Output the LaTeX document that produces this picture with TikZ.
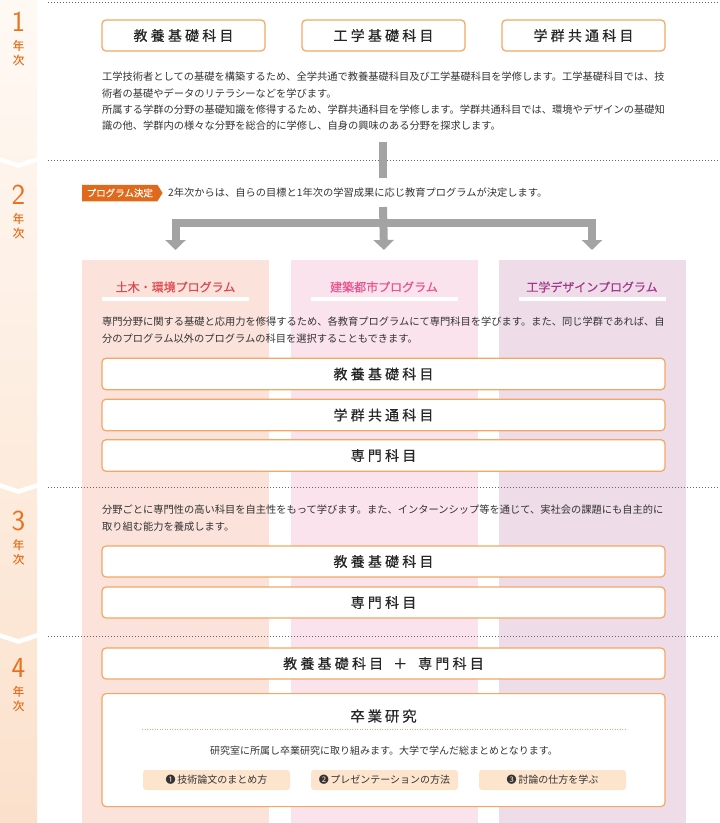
\documentclass[tikz,border=0pt]{standalone}
\usepackage{fontspec}
\setmainfont{Noto Sans CJK JP}
\newfontfamily\SubjFont[FakeBold=0.35]{Noto Sans CJK JP}
\usepackage{xcolor}
\usepackage{tikz}
\usetikzlibrary{calc,positioning,arrows.meta,shapes.symbols}
\definecolor{ink}{HTML}{333333}
\definecolor{boxline}{HTML}{F3A762}
\definecolor{yearink}{HTML}{E8701E}
\definecolor{sideA}{HTML}{FFF9F4}
\definecolor{sideB}{HTML}{FBE1CC}
\definecolor{flowgray}{HTML}{A3A3A3}
\definecolor{tagfill}{HTML}{E06A1B}
\definecolor{dotgray}{HTML}{666666}
\definecolor{laneA}{HTML}{FBE2DA}
\definecolor{laneB}{HTML}{FAE3EC}
\definecolor{laneC}{HTML}{EEDDE9}
\definecolor{titleA}{HTML}{E0474E}
\definecolor{titleB}{HTML}{E8528E}
\definecolor{titleC}{HTML}{A2368A}
\definecolor{pillfill}{HTML}{FCE4CD}
\newcommand{\Body}{\fontsize{10.25}{16.3}\selectfont}
\newcommand{\Subj}{\SubjFont\fontsize{14}{16}\selectfont}
\newcommand{\Title}{\SubjFont\fontsize{12}{14}\selectfont}
% letter spacing for the subject boxes
\def\SpreadGap{3.2pt}
\def\Spread#1{\SpreadLoop#1\relax\kern-\SpreadGap}
\def\SpreadLoop#1{\ifx#1\relax\else#1\kern\SpreadGap\expandafter\SpreadLoop\fi}
\def\SpreadMac#1{\expandafter\Spread\expandafter{#1}}

\begin{document}
\begin{tikzpicture}[x=1pt,y=-1pt, font=\Body, text=ink,
    subj/.style={draw=boxline, line width=1.2pt, rounded corners=4pt, fill=white, font=\Subj, text=black!85, inner sep=0pt},
    para/.style={anchor=north west, align=left, inner sep=0pt, font=\Body},
    lane/.style={anchor=north, minimum width=187pt, minimum height=563pt, inner sep=0pt, outer sep=0pt, draw=none},
    flow/.style={draw=flowgray, line width=8pt, -{Triangle[width=20pt,length=10pt]}},
    dotrule/.style={draw=dotgray, line width=0.9pt, dash pattern=on 0.9pt off 2.1pt},
    pill/.style={fill=pillfill, rounded corners=3pt, minimum width=147pt, minimum height=20pt, inner sep=0pt, font=\fontsize{10}{12}\selectfont},
    yearnum/.style={font=\fontsize{29}{30}\selectfont\sffamily, text=yearink, inner sep=0pt},
    yearkanji/.style={font=\SubjFont\fontsize{11.5}{14.5}\selectfont, text=yearink, align=center, inner sep=0pt}]
  \useasboundingbox (0,0) rectangle (720,823);
  % side strip
  \begin{scope}
    \clip (0,0) -- (37,0) -- (37,157) -- (18.5,163) -- (0,157) -- cycle
      (0,162) -- (18.5,168) -- (37,162) -- (37,483) -- (18.5,489) -- (0,483) -- cycle
      (0,488) -- (18.5,494) -- (37,488) -- (37,633) -- (18.5,639) -- (0,633) -- cycle
      (0,638) -- (18.5,644) -- (37,638) -- (37,823) -- (0,823) -- cycle;
    \shade[top color=sideA, bottom color=sideB] (0,0) rectangle (37,823);
  \end{scope}
  \foreach \n/\y in {1/22,2/195,3/521,4/668}{
    \node[yearnum] (yr\n) at (18.5,\y) {\n};
    \node[yearkanji, below=8pt of yr\n] (yk\n) {年\\次};}
  % program lanes
  \foreach \nm/\cx/\fc/\tc/\lbl in {civil/175.5/laneA/titleA/土木・環境プログラム, arch/384/laneB/titleB/建築都市プログラム, design/592/laneC/titleC/工学デザインプログラム}{
    \node[lane, fill=\fc] (\nm) at (\cx,260) {};
    \node[font=\Title, text=\tc, inner sep=0pt] (\nm-t) at (\cx,287) {\lbl};
    \fill[white] (\cx-73.5,297) rectangle (\cx+73.5,301);}
  \foreach \y in {2,160,487,636}{\draw[dotrule] (48,\y) -- (720,\y);}
  % year 1
  \foreach \x/\nm/\lbl in {183.5/kyo1/教養基礎科目, 383.5/kou1/工学基礎科目, 583.5/gun1/学群共通科目}{
    \node[subj, minimum width=163pt, minimum height=31pt] (\nm) at (\x,35.5) {\SpreadMac{\lbl}};}
  \node[para] (y1text) at (102,72) {工学技術者としての基礎を構築するため、全学共通で教養基礎科目及び工学基礎科目を学修します。工学基礎科目では、技\\術者の基礎やデータのリテラシーなどを学びます。\\所属する学群の分野の基礎知識を修得するため、学群共通科目を学修します。学群共通科目では、環境やデザインの基礎知\\識の他、学群内の様々な分野を総合的に学修し、自身の興味のある分野を探求します。};
  % year 2
  \coordinate (stubTop) at (383,142);
  \coordinate (stubEnd) at (383,178);
  \draw[flowgray, line width=8pt] (stubTop) -- (stubEnd);
  \node[signal, signal to=east, signal pointer angle=116, fill=tagfill, text=white, font=\SubjFont\fontsize{9.5}{10}\selectfont, minimum height=16.5pt, inner xsep=4.5pt, inner ysep=0pt, anchor=west] (decide) at (82,193) {プログラム決定};
  \node[anchor=west, inner sep=0pt] (intro) at (168,193) {2年次からは、自らの目標と1年次の学習成果に応じ教育プログラムが決定します。};
  \coordinate (forkTop) at (383,207);
  \coordinate (fork) at (383,223);
  \draw[flow] (forkTop) -- ([yshift=10pt]arch.north);
  \draw[flow] (fork) -| ([yshift=10pt]civil.north);
  \draw[flow] (fork) -| ([yshift=10pt]design.north);
  \node[para] (y2text) at (102,317) {専門分野に関する基礎と応用力を修得するため、各教育プログラムにて専門科目を学びます。また、同じ学群であれば、自\\分のプログラム以外のプログラムの科目を選択することもできます。};
  \foreach \y/\nm/\lbl in {374/kyo2/教養基礎科目, 415/gun2/学群共通科目, 455.5/sen2/専門科目}{
    \node[subj, minimum width=563pt, minimum height=31.5pt] (\nm) at (383.5,\y) {\SpreadMac{\lbl}};}
  % year 3
  \node[para] (y3text) at (102,505) {分野ごとに専門性の高い科目を自主性をもって学びます。また、インターンシップ等を通じて、実社会の課題にも自主的に\\取り組む能力を養成します。};
  \foreach \y/\nm/\lbl in {561.5/kyo3/教養基礎科目, 602.5/sen3/専門科目}{
    \node[subj, minimum width=563pt, minimum height=31pt] (\nm) at (383.5,\y) {\SpreadMac{\lbl}};}
  % year 4
  \node[subj, minimum width=563pt, minimum height=31pt] (both4) at (383.5,663.5) {\Spread{教養基礎科目}\kern10pt＋\kern11pt\Spread{専門科目}};
  \node[subj, minimum width=563pt, minimum height=113pt, anchor=north] (thesis) at (383.5,693) {};
  \node[font=\SubjFont\fontsize{14.5}{16}\selectfont, text=black!85, inner sep=0pt] (thesis-t) at (383.5,716) {\def\SpreadGap{2.8pt}\Spread{卒業研究}};
  \draw[boxline, line width=0.9pt, dash pattern=on 0.9pt off 1.6pt] (142,729) -- (627,729);
  \node[inner sep=0pt, font=\fontsize{10}{12}\selectfont] (thesis-d) at (384,751) {研究室に所属し卒業研究に取り組みます。大学で学んだ総まとめとなります。};
  \foreach \x/\nm/\lbl in {216.5/p1/❶\,技術論文のまとめ方, 384.5/p2/❷\,プレゼンテーションの方法, 552.5/p3/❸\,討論の仕方を学ぶ}{
    \node[pill] (\nm) at (\x,780) {\lbl};}
\end{tikzpicture}
\end{document}
